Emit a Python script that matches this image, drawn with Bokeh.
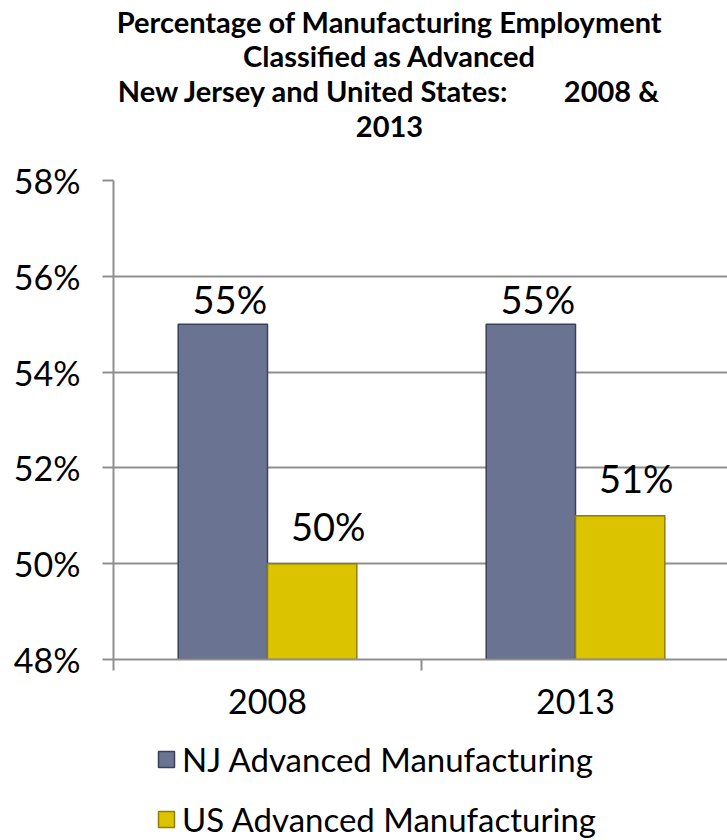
from bokeh.plotting import figure
from bokeh.layouts import column
from bokeh.models import (Range1d, FixedTicker, PrintfTickFormatter, Legend,
                          LegendItem, ColumnDataSource)
from bokeh.transform import dodge
from bokeh.core.properties import value
from bokeh.embed import file_html
from bokeh.resources import INLINE

# ---------------- data ----------------
years = ["2008", "2013"]
nj_values = [55, 55]
us_values = [50, 51]
series_names = ["NJ Advanced Manufacturing", "US Advanced Manufacturing"]
y_ticks = [48, 50, 52, 54, 56, 58]
title_lines = [
    "Percentage of Manufacturing Employment",
    "Classified as Advanced",
    "New Jersey and United States:\u00a0\u00a0\u00a0\u00a0\u00a0\u00a0\u00a0 2008 &",
    "2013",
]

# ---------------- styling / layout ----------------
FONT = "Lato"
W = 727
TITLE_H = 158
MAIN_TOP, FRAME_H, MAIN_BOTTOM = 22, 479, 71
MAIN_H = MAIN_TOP + FRAME_H + MAIN_BOTTOM
LEG_H = 110
LEFT = 113
FRAME_W = W - LEFT
CAT_PX = 308.0
Y0, Y1 = 48, 58

NJ_COLOR = "#6b7392"
NJ_EDGE = "#3b4058"
US_COLOR = "#dcc300"
US_EDGE = "#8f7f00"
GRID = "#8f8f8f"
NAN = float("nan")


def bare(fig):
    fig.outline_line_color = None
    fig.grid.visible = False
    fig.background_fill_color = None
    fig.border_fill_color = None
    return fig


# ---------------- title block (its frame is aligned with the chart frame) ----------------
pt = bare(figure(width=W, height=TITLE_H, output_backend="svg", toolbar_location=None,
                 x_range=Range1d(LEFT, W), y_range=Range1d(TITLE_H, 0),
                 x_axis_location=None, y_axis_location=None,
                 min_border_left=LEFT, min_border_right=0, min_border_top=0,
                 min_border_bottom=0))
title_src = ColumnDataSource(dict(
    x=[389] * len(title_lines),
    y=[20.5, 55, 90, 125.5],
    text=title_lines,
))
pt.text(x="x", y="y", text="text", source=title_src, text_align="center",
        text_baseline="middle", text_font=value(FONT), text_font_style="bold",
        text_font_size="29px", text_color="black")

# ---------------- main chart ----------------
pos = [i + 0.5 for i in range(len(years))]
src = ColumnDataSource(dict(
    x=pos,
    nj=nj_values,
    us=us_values,
    nj_lbl=[f"{v}%" for v in nj_values],
    us_lbl=[f"{v}%" for v in us_values],
))

p = figure(width=W, height=MAIN_H, output_backend="svg", toolbar_location=None,
           x_range=Range1d(0, FRAME_W / CAT_PX), y_range=Range1d(Y0, Y1),
           min_border_left=LEFT, min_border_right=0,
           min_border_top=MAIN_TOP, min_border_bottom=MAIN_BOTTOM)
p.outline_line_color = None
p.background_fill_color = "white"
p.border_fill_color = "white"

BW = 0.29
r_nj = p.vbar(x=dodge("x", -0.145, range=p.x_range), top="nj", bottom=Y0, width=BW,
              source=src, fill_color=NJ_COLOR, line_color=NJ_EDGE, line_width=1.5)
r_us = p.vbar(x=dodge("x", 0.145, range=p.x_range), top="us", bottom=Y0, width=BW,
              source=src, fill_color=US_COLOR, line_color=US_EDGE, line_width=1.5)

p.text(x=dodge("x", -0.145, range=p.x_range), y="nj", text="nj_lbl", source=src,
       x_offset=7, y_offset=-25, text_align="center", text_baseline="middle",
       text_font=value(FONT), text_font_size="38px", text_color="black")
p.text(x=dodge("x", 0.145, range=p.x_range), y="us", text="us_lbl", source=src,
       x_offset=16, y_offset=-38, text_align="center", text_baseline="middle",
       text_font=value(FONT), text_font_size="38px", text_color="black")

p.xaxis.ticker = FixedTicker(ticks=pos, minor_ticks=list(range(len(years) + 1)))
p.xaxis.major_label_overrides = {v: y for v, y in zip(pos, years)}
p.xaxis.major_tick_out = 0
p.xaxis.major_tick_in = 0
p.xaxis.minor_tick_out = 11
p.xaxis.minor_tick_in = 0
p.xaxis.minor_tick_line_color = GRID
p.xaxis.minor_tick_line_width = 2
p.xaxis.major_label_standoff = 18
p.xaxis.major_label_text_font = FONT
p.xaxis.major_label_text_font_size = "34px"
p.xaxis.major_label_text_color = "black"
p.xaxis.axis_line_color = GRID
p.xaxis.axis_line_width = 2

p.yaxis.ticker = FixedTicker(ticks=y_ticks, minor_ticks=[])
p.yaxis.formatter = PrintfTickFormatter(format="%d%%")
p.yaxis.major_tick_out = 11
p.yaxis.major_tick_in = 0
p.yaxis.major_tick_line_color = GRID
p.yaxis.major_tick_line_width = 2
p.yaxis.minor_tick_line_color = None
p.yaxis.major_label_standoff = 22
p.yaxis.major_label_text_font = FONT
p.yaxis.major_label_text_font_size = "34px"
p.yaxis.major_label_text_color = "black"
p.yaxis.axis_line_color = GRID
p.yaxis.axis_line_width = 2

p.xgrid.grid_line_color = None
p.ygrid.grid_line_color = GRID
p.ygrid.grid_line_width = 2

# ---------------- legend block ----------------
pl = bare(figure(width=W, height=LEG_H, output_backend="svg", toolbar_location=None,
                 x_range=Range1d(LEFT, W), y_range=Range1d(0, LEG_H),
                 x_axis_location=None, y_axis_location=None,
                 min_border_left=LEFT, min_border_right=0, min_border_top=0,
                 min_border_bottom=0))
# legend proxies (no visible marks; they only carry the legend styling)
k_nj = pl.vbar(x=[NAN], top=[NAN], width=1, fill_color=NJ_COLOR, line_color=NJ_EDGE,
               line_width=1.5)
k_us = pl.vbar(x=[NAN], top=[NAN], width=1, fill_color=US_COLOR, line_color=US_EDGE,
               line_width=1.5)
legend = Legend(items=[LegendItem(label=series_names[0], renderers=[k_nj]),
                       LegendItem(label=series_names[1], renderers=[k_us])],
                location=(43, 1), orientation="vertical",
                glyph_width=20, glyph_height=20, label_standoff=6,
                label_text_font=FONT, label_text_font_size="33px",
                label_text_color="black",
                label_height=38, spacing=20, padding=0, margin=0,
                border_line_color=None, background_fill_alpha=0)
pl.add_layout(legend)

layout = column(pt, p, pl, spacing=0)
open("out.html", "w").write(file_html(layout, INLINE))
